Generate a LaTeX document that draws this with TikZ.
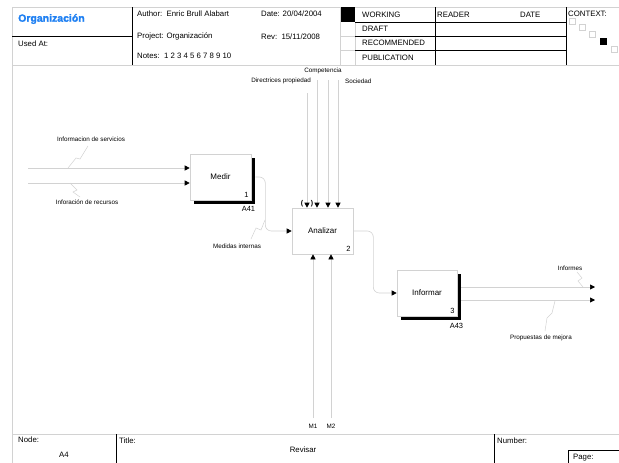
\documentclass[tikz,border=0pt]{standalone}
\usepackage{fontspec}
\setmainfont{Liberation Sans}
\newfontfamily\heavyfont[FakeBold=1.6]{Liberation Sans Bold}
\usepackage{tikz}
\usetikzlibrary{arrows.meta,positioning,shadows,calc}
\definecolor{IdefLine}{HTML}{D2D2D2}
\definecolor{IdefBlue}{HTML}{1F80F2}
\tikzset{
  frame/.style={draw=IdefLine,line width=0.8pt},
  rule/.style={draw=black,line width=1pt},
  hd/.style={font=\fontsize{7.8}{9}\selectfont,inner sep=0pt},
  lbl/.style={font=\fontsize{6.3}{7}\selectfont,inner sep=0pt},
  activity/.style={draw=IdefLine,line width=0.6pt,fill=white,minimum width=61pt,
    minimum height=46pt,inner sep=0pt,font=\fontsize{8}{9}\selectfont},
  shadowed/.style={activity,drop shadow={shadow xshift=4pt,shadow yshift=-4pt,fill=black,opacity=1}},
  boxnum/.style={font=\fontsize{7.5}{8}\selectfont,inner sep=2.5pt},
  conn/.style={draw=IdefLine,line width=0.6pt,-{Triangle[length=5pt,width=5pt,color=black]}},
  squig/.style={draw=IdefLine,line width=0.5pt},
  ctx/.style={draw=IdefLine,line width=0.5pt}
}

\begin{document}
\begin{tikzpicture}[x=1pt,y=-1pt]
  \useasboundingbox (0,0) rectangle (619,463);
  \draw[frame] (12,463) -- (12,7) -- (619,7);
  \draw[frame] (12,65) -- (619,65);
  \draw[frame] (12,434) -- (619,434);
  \draw[rule] (12,36) -- (132,36);
  \draw[rule] (132,7) -- (132,65);
  \fill (340,7) rectangle (355,22);
  \draw[frame] (340,7) -- (340,65) (355,22) -- (355,65) (340,36) -- (355,36) (340,50) -- (355,50);
  \foreach \y in {22,36,50} \draw[rule] (355,\y) -- (566,\y);
  \draw[rule] (435,7) -- (435,65) (566,7) -- (566,65);
  \foreach \x/\y in {569/18,579/24,589/31,611/46} \draw[ctx] (\x,\y) rectangle ++(6,6);
  \fill (600,38) rectangle ++(7,7);
  \draw[rule] (116,434) -- (116,463) (494,434) -- (494,463) (568,463) -- (568,450) -- (619,450);

  \node[anchor=west,inner sep=0pt,text=IdefBlue,font=\fontsize{10.5}{12}\heavyfont] (org) at (18,19) {Organización};
  \node[hd,anchor=west] (used) at (18,44) {Used At:};
  \node[hd,anchor=west] (author) at (137,14) {Author:\ \ Enric Brull Alabart};
  \node[hd,anchor=west] (date) at (261,14) {Date: 20/04/2004};
  \node[hd,anchor=west] (project) at (137,36) {Project: Organización};
  \node[hd,anchor=west] (rev) at (261,37) {Rev:\ \ 15/11/2008};
  \node[hd,anchor=west] (notes) at (137,56) {Notes:\ \ 1 2 3 4 5 6 7 8 9 10};
  \node[hd,anchor=west] (working) at (362,15) {WORKING};
  \node[hd,anchor=west] (draft) at (362,29) {DRAFT};
  \node[hd,anchor=west] (recom) at (362,43) {RECOMMENDED};
  \node[hd,anchor=west] (publ) at (362,58) {PUBLICATION};
  \node[hd,anchor=west] (reader) at (437,15) {READER};
  \node[hd,anchor=west] (rdate) at (520,15) {DATE};
  \node[hd,anchor=west] (context) at (568,14) {CONTEXT:};
  \node[hd,anchor=west] (nodelbl) at (18,440) {Node:};
  \node[hd] (nodeval) at (64,455) {A4};
  \node[hd,anchor=west] (titlelbl) at (119,441) {Title:};
  \node[hd] (titleval) at (303,450) {Revisar};
  \node[hd,anchor=west] (numlbl) at (497,441) {Number:};
  \node[hd,anchor=west] (pagelbl) at (573,458) {Page:};

  \node[shadowed] (medir) at (220.5,177) {Medir};
  \node[activity] (analizar) at (322.5,231) {Analizar};
  \node[shadowed,minimum width=60pt] (informar) at (427,293) {Informar};
  \node[boxnum,anchor=south east] at (medir.south east) {1};
  \node[boxnum,anchor=south east] at (analizar.south east) {2};
  \node[boxnum,anchor=south east] at (informar.south east) {3};
  \node[boxnum,anchor=north east,inner sep=0pt] (a41) at ([xshift=4pt,yshift=-6pt]medir.south east) {A41};
  \node[boxnum,anchor=north east,inner sep=0pt] (a43) at ([xshift=6pt,yshift=-7pt]informar.south east) {A43};

  \coordinate (in1) at (28,168);
  \coordinate (in2) at (28,183);
  \draw[conn] (in1) -- (in1 -| medir.west);
  \draw[conn] (in2) -- (in2 -| medir.west);
  \draw[conn,rounded corners=6pt] ([xshift=4pt]medir.east) -- ++(10,0) |- (analizar.west);
  \draw[conn,rounded corners=6pt] (analizar.east) -- ++(20,0) |- (informar.west);
  \coordinate (out1) at (595,287);
  \coordinate (out2) at (595,300);
  \draw[conn] ([xshift=4pt]informar.east |- out1) -- (out1);
  \draw[conn] ([xshift=4pt]informar.east |- out2) -- (out2);
  \foreach \x/\y in {307/93,317/80,328/80,338/80} {
    \coordinate (c) at (\x,\y);
    \draw[conn] (c) -- (c |- analizar.north);
  }
  \node[font=\fontsize{7}{8}\bfseries,inner sep=0pt] (tunl) at (302,204) {(};
  \node[font=\fontsize{7}{8}\bfseries,inner sep=0pt] (tunr) at (312,204) {)};
  \coordinate (m1) at (313,418);
  \coordinate (m2) at (331,418);
  \draw[conn] (m1) -- (m1 |- analizar.south);
  \draw[conn] (m2) -- (m2 |- analizar.south);

  \node[lbl] (competencia) at (323,71) {Competencia};
  \node[lbl,anchor=east] (directrices) at (311,81) {Directrices propiedad};
  \node[lbl,anchor=west] (sociedad) at (345,81) {Sociedad};
  \node[lbl] (m1lbl) at (313,426) {M1};
  \node[lbl] (m2lbl) at (331,426) {M2};
  \node[lbl] (infserv) at (91,139) {Informacion de servicios};
  \node[lbl] (infrec) at (87,202) {Inforación de recursos};
  \node[lbl] (medidas) at (237,246) {Medidas internas};
  \node[lbl] (informes) at (570,268) {Informes};
  \node[lbl] (propuestas) at (541,338) {Propuestas de mejora};
  \draw[squig] (68,168) -- (76,158) -- (80,159) -- (88,146);
  \draw[squig] (70,183) -- (77,190) -- (73,192) -- (80,197);
  \draw[squig] (265,220) -- (261,230) -- (256,228) -- (251,239);
  \draw[squig] (583,287) -- (578,281) -- (582,278) -- (577,272);
  \draw[squig] (555,301) -- (552,313) -- (547,318) -- (545,331);
\end{tikzpicture}
\end{document}
